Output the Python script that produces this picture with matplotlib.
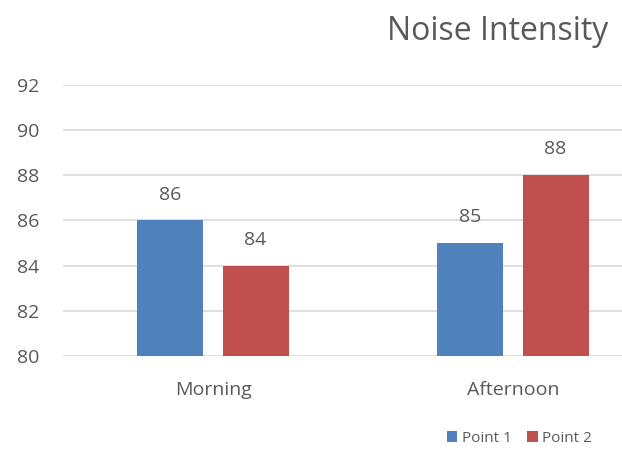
import matplotlib
matplotlib.use("Agg")
import matplotlib.pyplot as plt
import numpy as np
from matplotlib.patches import Patch

# Data
categories = ["Morning", "Afternoon"]
series_names = ["Point 1", "Point 2"]
point1 = [86, 85]
point2 = [84, 88]
y_ticks = [80, 82, 84, 86, 88, 90, 92]
title = "Noise Intensity"

colors = ["#4f81bd", "#c0504d"]
text_color = "#595959"
grid_color = "#d9d9d9"

plt.rcParams["font.family"] = ["Open Sans", "DejaVu Sans"]

fig = plt.figure(figsize=(6.22, 4.53), dpi=100)
# axes spans past the right edge of the canvas
ax = fig.add_axes([63 / 622, 97 / 453, 600 / 622, 271 / 453])

x = np.arange(len(categories))
width = 0.22
offset = 0.142
for vals, off, col in zip([point1, point2], [-offset, offset], colors):
    ax.bar(x + off, np.array(vals) - y_ticks[0], width, bottom=y_ticks[0],
           color=col, zorder=3)
    for xi, v in zip(x + off, vals):
        ax.text(xi, v + 1.15, f"{v}", ha="center", va="center",
                fontsize=14, color=text_color)

ax.set_xlim(-0.5, 1.5)
ax.set_ylim(y_ticks[0], y_ticks[-1])
ax.set_yticks(y_ticks)
ax.set_yticklabels([str(t) for t in y_ticks])
ax.set_xticks(x)
ax.set_xticklabels(categories)
ax.tick_params(axis="y", length=0, pad=17, labelsize=14, labelcolor=text_color)
ax.tick_params(axis="x", length=0, pad=18, labelsize=14, labelcolor=text_color)
for spine in ax.spines.values():
    spine.set_visible(False)
ax.grid(axis="y", color=grid_color, linewidth=1.2, zorder=0)
ax.set_axisbelow(True)

fig.text(608 / 622, 1 - 31 / 453, title, ha="right", va="center",
         fontsize=23, color=text_color)

handles = [Patch(facecolor=c, edgecolor="none") for c in colors]
fig.legend(handles, series_names, loc="center right",
           bbox_to_anchor=(606 / 622, 1 - 438 / 453), ncol=2, frameon=False,
           handlelength=0.7, handleheight=0.7, handletextpad=0.3,
           columnspacing=1.0, fontsize=11, labelcolor=text_color)

fig.savefig("out.png", dpi=100)
